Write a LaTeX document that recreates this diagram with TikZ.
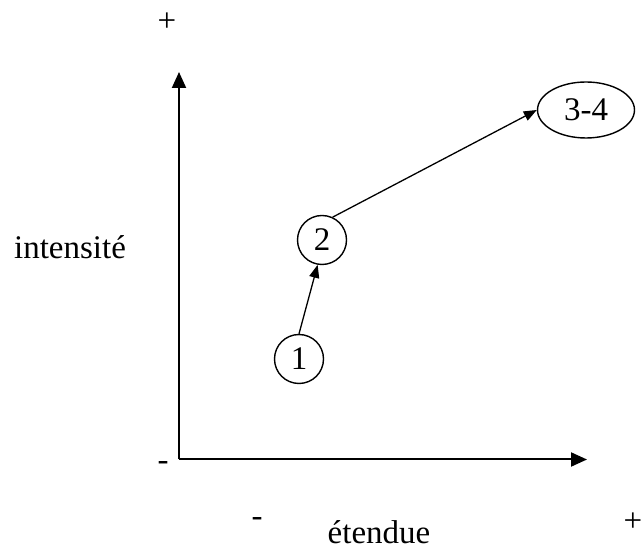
\documentclass[tikz,border=0pt]{standalone}
\usepackage{fontspec}
\setmainfont{Liberation Serif}
\usetikzlibrary{arrows.meta,shapes.geometric}
\tikzset{
  >={Triangle[length=6.5pt,width=5pt]},
  axis/.style={line width=1pt,-{Triangle[length=8pt,width=7pt]}},
  stage/.style={circle,draw,line width=0.7pt,minimum size=24.5pt,inner sep=0pt},
  stage wide/.style={ellipse,draw,line width=0.7pt,minimum width=48.5pt,minimum height=28pt,inner sep=0pt},
  jump/.style={->,line width=0.65pt},
}

\begin{document}
\begin{tikzpicture}[x=0.5pt,y=-0.5pt,font=\fontsize{16.5}{20}\selectfont]
  \useasboundingbox (0,0) rectangle (642,549);
  % axes
  \coordinate (o) at (179,459.5);
  \coordinate (ytop) at (179,72);
  \coordinate (xend) at (587,459.5);
  \draw[axis] (o) -- (ytop);
  \draw[axis] (o) -- (xend);
  \node (ytag) at (167,22) {+};
  \node (otag) at (163,466) {-};
  \node (ylab) at (70,247) {intensité};
  \node (xmin) at (257,522) {-};
  \node (xlab) at (379,532) {étendue};
  \node (xmax) at (633,522) {+};
  % stages
  \node[stage] (n1) at (299,359) {1};
  \node[stage] (n2) at (322,240) {2};
  \node[stage wide] (n34) at (586,110) {3-4};
  \draw[jump] (n1.north) -- (n2.260);
  \draw[jump] (n2.65) -- (n34.west);
\end{tikzpicture}
\end{document}
